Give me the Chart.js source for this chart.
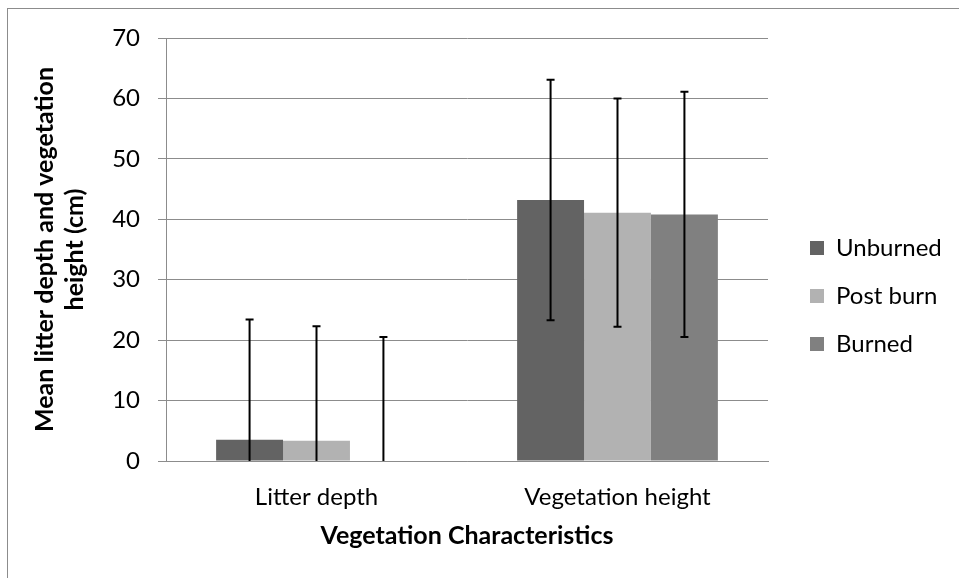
<!DOCTYPE html>
<html>
<head>
<meta charset="utf-8">
<script src="https://cdn.jsdelivr.net/npm/chart.js@4.4.1/dist/chart.umd.min.js"></script>
<style>
  html, body { margin: 0; padding: 0; background: #fff; overflow: hidden; }
  #wrap { position: relative; width: 959px; height: 578px; }
  #frame { position: absolute; left: 7px; top: 8px; width: 1000px; height: 1000px; border: 1px solid #8c8c8c; box-sizing: border-box; }
  #chart { position: absolute; left: 0; top: 0; }
</style>
</head>
<body>
<div id="wrap">
  <div id="frame"></div>
  <canvas id="chart" width="959" height="578"></canvas>
</div>
<script>
const categories = ['Litter depth', 'Vegetation height'];
const unburned = [3.5, 43.2];
const postBurn = [3.35, 41.1];
const burned = [0, 40.8];
const unburnedErr = [19.9, 19.9];
const postBurnErr = [18.95, 18.9];
const burnedErr = [20.5, 20.3];
const yMin = 0;
const yMax = 70;
const yStep = 10;

Chart.defaults.font.family = 'Lato';
Chart.defaults.color = '#000';

// error bars, clipped to the plot like Excel does
const errorBars = {
  id: 'errorBars',
  afterDatasetsDraw(chart) {
    const { ctx, chartArea } = chart;
    const y = chart.scales.y;
    ctx.save();
    ctx.strokeStyle = '#000';
    ctx.lineWidth = 2;
    chart.data.datasets.forEach((ds, i) => {
      chart.getDatasetMeta(i).data.forEach((bar, j) => {
        const v = ds.data[j];
        const e = ds.errors[j];
        const top = y.getPixelForValue(v + e);
        const bottom = y.getPixelForValue(v - e);
        const y1 = Math.max(top, chartArea.top);
        const y2 = Math.min(bottom, chartArea.bottom);
        ctx.beginPath();
        ctx.moveTo(bar.x, y1);
        ctx.lineTo(bar.x, y2);
        if (top >= chartArea.top) {
          ctx.moveTo(bar.x - 4, top);
          ctx.lineTo(bar.x + 4, top);
        }
        if (bottom <= chartArea.bottom) {
          ctx.moveTo(bar.x - 4, bottom);
          ctx.lineTo(bar.x + 4, bottom);
        }
        ctx.stroke();
      });
    });
    ctx.restore();
  }
};

// fixed legend width so the swatches line up with the reference
const legendWidth = {
  id: 'legendWidth',
  afterInit(chart) {
    const legend = chart.legend;
    const fit = legend.fit;
    legend.fit = function () {
      fit.call(this);
      this.width = 173;
    };
  }
};

new Chart(document.getElementById('chart'), {
  type: 'bar',
  data: {
    labels: categories,
    datasets: [
      { label: 'Unburned', data: unburned, errors: unburnedErr, backgroundColor: '#636363' },
      { label: 'Post burn', data: postBurn, errors: postBurnErr, backgroundColor: '#b2b2b2' },
      { label: 'Burned', data: burned, errors: burnedErr, backgroundColor: '#808080' }
    ]
  },
  options: {
    responsive: false,
    animation: false,
    layout: { padding: { top: 38, bottom: 24, left: 0, right: 0 } },
    datasets: {
      bar: { barPercentage: 1, categoryPercentage: 0.667 }
    },
    plugins: {
      tooltip: { enabled: false },
      legend: {
        position: 'right',
        align: 'center',
        labels: { boxWidth: 14, boxHeight: 14, padding: 24, font: { size: 24 } }
      }
    },
    scales: {
      x: {
        grid: { display: false },
        border: { color: '#8c8c8c', width: 1 },
        ticks: { padding: 14, font: { size: 24 } },
        title: {
          display: true,
          text: 'Vegetation Characteristics',
          font: { size: 25, weight: 'bold' },
          padding: { top: 0, bottom: 3 }
        },
        afterFit(s) { s.height = 93; s.paddingLeft = 0; s.paddingRight = 0; }
      },
      y: {
        min: yMin,
        max: yMax,
        ticks: { stepSize: yStep, padding: 18, font: { size: 24 } },
        grid: { color: '#8c8c8c', tickLength: 8 },
        border: { color: '#8c8c8c', width: 1 },
        title: {
          display: true,
          text: ['Mean litter depth and vegetation', 'height (cm)'],
          font: { size: 25, weight: 'bold', lineHeight: 1.2 },
          padding: { top: 30, bottom: 0 }
        },
        afterFit(s) { s.width = 166; s.paddingTop = 0; s.paddingBottom = 0; }
      },
      gap: {
        type: 'linear',
        position: 'right',
        display: true,
        grid: { display: false },
        border: { display: false },
        ticks: { display: false },
        afterFit(s) { s.width = 18; }
      }
    }
  },
  plugins: [errorBars, legendWidth]
});
</script>
</body>
</html>
